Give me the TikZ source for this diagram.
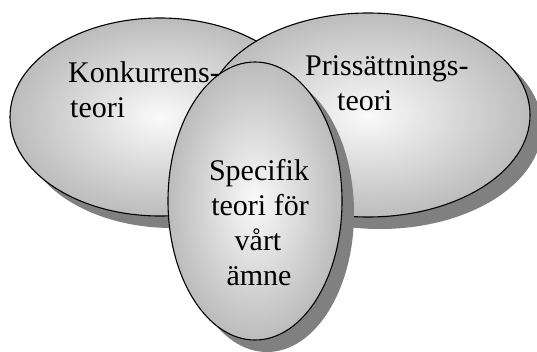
\documentclass[tikz,border=0pt]{standalone}
\usepackage{fontspec}
\setmainfont{Liberation Serif}
\usetikzlibrary{shapes.geometric,shadows}
\definecolor{rimgray}{RGB}{188,188,188}
\definecolor{coregray}{RGB}{250,250,250}
\definecolor{shadowgray}{RGB}{128,128,128}
\begin{document}
\begin{tikzpicture}[x=1pt,y=-1pt,
  bubble/.style={ellipse, draw=black, line width=1.1pt, inner sep=0pt,
    shading=radial, inner color=coregray, outer color=rimgray,
    drop shadow={shadow xshift=12pt, shadow yshift=-12pt, fill=shadowgray, opacity=1}},
  caption/.style={font=\fontsize{30}{35}\selectfont, inner sep=0pt, text=black}]
\useasboundingbox (0,0) rectangle (537,351);
% three overlapping theory fields
\node[bubble, minimum width=300pt, minimum height=198pt] (konk) at (160,117) {};
\node[bubble, minimum width=324pt, minimum height=204pt] (pris) at (368,115) {};
\node[bubble, minimum width=174pt, minimum height=278pt] (spec) at (255,201) {};
% labels
\node[caption, anchor=base west] (konkA) at (68,82) {Konkurrens-};
\node[caption, anchor=base west] (konkB) at (70,117) {teori};
\node[caption, anchor=base west] (prisA) at (305,75) {Prissättnings-};
\node[caption, anchor=base west] (prisB) at (337,110) {teori};
\node[caption, anchor=base] (specA) at (259,180) {Specifik};
\node[caption, anchor=base] (specB) at (260,215) {teori för};
\node[caption, anchor=base] (specC) at (258,250) {vårt};
\node[caption, anchor=base] (specD) at (259,285) {ämne};
\end{tikzpicture}
\end{document}
